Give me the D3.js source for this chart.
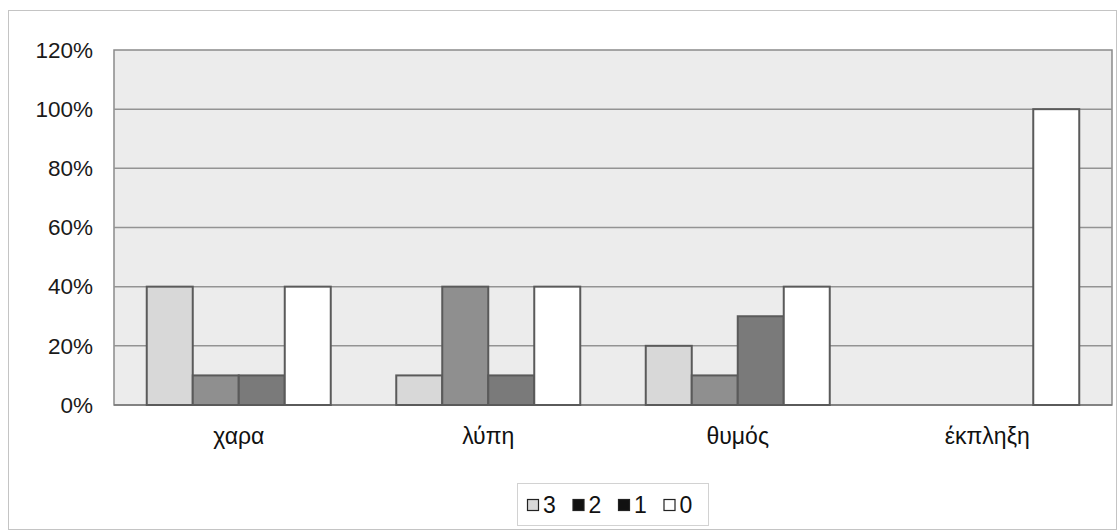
<!DOCTYPE html>
<html><head><meta charset="utf-8">
<script src="https://cdn.jsdelivr.net/npm/d3@7"></script>
<style>body{margin:0;background:#fff}svg{display:block}</style>
</head><body>
<script>
const categories = ["χαρα", "λύπη", "θυμός", "έκπληξη"];
const seriesNames = ["3", "2", "1", "0"];
const values3 = [0.40, 0.10, 0.20, 0.00];
const values2 = [0.10, 0.40, 0.10, 0.00];
const values1 = [0.10, 0.10, 0.30, 0.00];
const values0 = [0.40, 0.40, 0.40, 1.00];
const yTicks = [0, 0.2, 0.4, 0.6, 0.8, 1.0, 1.2];

const seriesValues = [values3, values2, values1, values0];
const barColors = ["#d8d8d8", "#8f8f8f", "#7a7a7a", "#ffffff"];
const legendColors = ["#d8d8d8", "#111111", "#111111", "#ffffff"];

const W = 1119, H = 531;
const svg = d3.select("body").append("svg").attr("width", W).attr("height", H);
const font = "'Liberation Sans', Arial, sans-serif";

// outer chart border
svg.append("rect").attr("x", 8.5).attr("y", 10.5).attr("width", 1108).attr("height", 519)
  .attr("fill", "#fff").attr("stroke", "#c4c4c4").attr("stroke-width", 1);

const plot = {left: 114, right: 1112, top: 50, bottom: 405};
const y = d3.scaleLinear().domain([0, 1.2]).range([plot.bottom, plot.top]);
const p = 0.2625;
const x = d3.scaleBand().domain(categories).range([plot.left, plot.right]).paddingInner(p).paddingOuter(p / 2);
const xs = d3.scaleBand().domain(seriesNames).range([0, x.bandwidth()]).padding(0);

// plot background
svg.append("rect").attr("x", plot.left).attr("y", plot.top)
  .attr("width", plot.right - plot.left).attr("height", plot.bottom - plot.top)
  .attr("fill", "#ececec").attr("stroke", "#8a8a8a").attr("stroke-width", 1.5);

// gridlines
svg.append("g").selectAll("line").data(yTicks.filter(d => d > 0 && d < 1.2)).join("line")
  .attr("x1", plot.left).attr("x2", plot.right)
  .attr("y1", d => y(d)).attr("y2", d => y(d))
  .attr("stroke", "#939393").attr("stroke-width", 1.5);

// y axis
const yAxis = d3.axisLeft(y).tickValues(yTicks).tickFormat(d3.format(".0%")).tickSize(0).tickPadding(21);
const ga = svg.append("g").attr("transform", `translate(${plot.left},0)`).call(yAxis);
ga.select(".domain").remove();
ga.selectAll("text").attr("font-family", font).attr("font-size", 22.5).attr("fill", "#1a1a1a");

// x axis line
svg.append("line").attr("x1", plot.left).attr("x2", plot.right)
  .attr("y1", plot.bottom).attr("y2", plot.bottom).attr("stroke", "#777").attr("stroke-width", 1.5);

// bars
const rows = [];
categories.forEach((c, i) => seriesNames.forEach((s, j) => rows.push({c, s, j, v: seriesValues[j][i]})));
svg.append("g").selectAll("rect").data(rows.filter(d => d.v > 0)).join("rect")
  .attr("x", d => x(d.c) + xs(d.s))
  .attr("y", d => y(d.v))
  .attr("width", xs.bandwidth())
  .attr("height", d => y(0) - y(d.v))
  .attr("fill", d => barColors[d.j])
  .attr("stroke", "#5a5a5a").attr("stroke-width", 2);

// category labels
const xAxis = d3.axisBottom(x).tickSize(0).tickPadding(23);
const gx = svg.append("g").attr("transform", `translate(0,${plot.bottom})`).call(xAxis);
gx.select(".domain").remove();
gx.selectAll("text").attr("font-family", font).attr("font-size", 23).attr("fill", "#111");

// legend
const lg = svg.append("g");
lg.append("rect").attr("x", 517.5).attr("y", 483.5).attr("width", 191).attr("height", 42)
  .attr("fill", "#fff").attr("stroke", "#d2d2d2");
const items = lg.selectAll("g.item").data(seriesNames).join("g").attr("class", "item")
  .attr("transform", (d, i) => `translate(${527 + i * 45.5},0)`);
items.append("rect").attr("x", 0.5).attr("y", 499.5).attr("width", 11).attr("height", 11)
  .attr("fill", (d, i) => legendColors[i]).attr("stroke", "#222").attr("stroke-width", 1.2);
items.append("text").attr("x", 16).attr("y", 513).text(d => d)
  .attr("font-family", font).attr("font-size", 23).attr("fill", "#111");
</script>
</body></html>
